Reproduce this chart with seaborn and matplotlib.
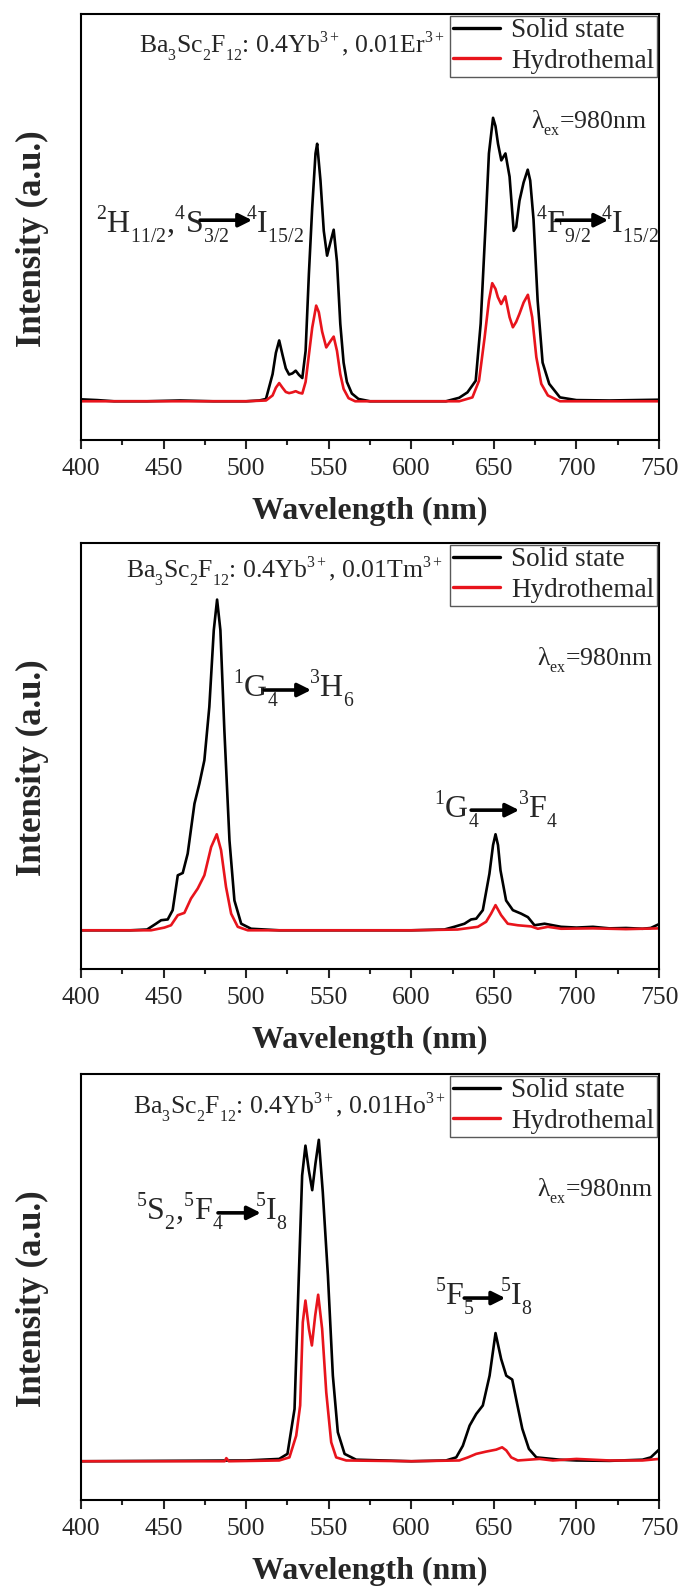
import numpy as np
import pandas as pd
import seaborn as sns
import matplotlib
matplotlib.use('Agg')
import matplotlib.pyplot as plt
import matplotlib._mathtext as mathtext_internal

# ---- spectra (baseline = 0) ----
# Er3+
er_solid_wl = [400, 410, 420, 440, 460, 480, 500, 508, 512, 516, 518, 520, 522, 524, 526, 528, 530, 532, 534,
               536, 538, 540, 542, 543, 545, 547, 549, 551, 553, 555, 557, 559, 561, 564, 568, 575, 600, 621,
               629, 634, 639, 642, 645, 647, 649.5, 651, 652.5, 654.5, 657, 659.5, 662, 663.5, 665.5, 668,
               670.5, 672, 674, 676.5, 679.5, 683.5, 690, 700, 720, 750]
er_solid = [0.005, 0.003, 0.0, 0.0, 0.002, 0.0, 0.0, 0.002, 0.006, 0.07, 0.125, 0.157, 0.12, 0.085, 0.069, 0.072,
            0.079, 0.068, 0.06, 0.13, 0.33, 0.5, 0.64, 0.665, 0.57, 0.44, 0.376, 0.41, 0.443, 0.36, 0.2, 0.1,
            0.05, 0.02, 0.006, 0.0, 0.0, 0.0, 0.009, 0.023, 0.053, 0.2, 0.458, 0.64, 0.732, 0.71, 0.665, 0.622,
            0.64, 0.58, 0.44, 0.45, 0.518, 0.565, 0.598, 0.57, 0.47, 0.26, 0.1, 0.045, 0.01, 0.003, 0.002, 0.004]
er_hydro_wl = [400, 450, 500, 512, 516, 518, 520, 522, 524, 526, 528, 530, 532, 534, 536, 538, 540, 542.4, 544,
               546, 548.5, 551, 553, 555, 557, 559, 562, 566, 600, 629, 637, 641, 644.4, 647, 649, 651, 652.4,
               654.4, 656.9, 659.5, 661.5, 663.5, 665.5, 668, 670.6, 673.2, 675.7, 678.7, 682.7, 690, 750]
er_hydro = [0.0, 0.0, 0.0, 0.002, 0.015, 0.035, 0.047, 0.035, 0.024, 0.021, 0.023, 0.026, 0.022, 0.02, 0.05,
            0.12, 0.19, 0.247, 0.23, 0.18, 0.139, 0.155, 0.167, 0.13, 0.07, 0.032, 0.008, 0.0, 0.0, 0.0, 0.01,
            0.053, 0.165, 0.26, 0.305, 0.29, 0.269, 0.251, 0.271, 0.217, 0.191, 0.205, 0.226, 0.255, 0.275,
            0.217, 0.114, 0.045, 0.015, 0.0, 0.0]

# Tm3+
tm_solid_wl = [400, 430, 440, 445.4, 448.5, 452.5, 455.5, 458.6, 461.6, 464.6, 468.7, 471.7, 474.7, 477.7, 480.4,
               482.4, 484.4, 486.8, 489.9, 492.9, 497, 503, 520, 600, 620, 626, 632.2, 636.2, 639.3, 643.3,
               647.3, 649.5, 651, 652.5, 654, 657.4, 661.5, 666.5, 670.6, 674.6, 680.7, 690.7, 700, 710, 720,
               730, 740, 745, 750]
tm_solid = [0.0, 0.0, 0.002, 0.017, 0.026, 0.028, 0.052, 0.142, 0.148, 0.198, 0.327, 0.379, 0.439, 0.577, 0.775,
            0.854, 0.775, 0.517, 0.232, 0.077, 0.017, 0.004, 0.0, 0.0, 0.002, 0.009, 0.017, 0.028, 0.03, 0.052,
            0.146, 0.22, 0.248, 0.22, 0.155, 0.077, 0.052, 0.043, 0.034, 0.013, 0.017, 0.009, 0.007, 0.009,
            0.005, 0.006, 0.004, 0.006, 0.016]
tm_hydro_wl = [400, 442.4, 450.5, 454.5, 458.6, 462.6, 466.6, 470.7, 474.7, 478.8, 482.2, 484.8, 487.8, 490.9,
               494.9, 501, 600, 628, 640.3, 645.3, 648.3, 651, 654.4, 658.4, 664.5, 672.6, 676.6, 682.7, 690.7,
               710, 730, 750]
tm_hydro = [0.0, 0.0, 0.007, 0.013, 0.039, 0.045, 0.082, 0.108, 0.142, 0.215, 0.248, 0.207, 0.112, 0.043, 0.009,
            0.0, 0.0, 0.002, 0.009, 0.022, 0.043, 0.065, 0.039, 0.017, 0.013, 0.01, 0.004, 0.009, 0.004, 0.005,
            0.003, 0.005]

# Ho3+
ho_solid_wl = [400, 500, 520, 525, 529.3, 531.9, 533.9, 535.9, 538, 540, 542, 544, 546.4, 549.5, 552.5, 555.5,
               559.6, 566.6, 600, 621, 627.2, 631.2, 635.3, 639.3, 643.3, 647.4, 651, 654.4, 657.5, 661.1, 663.9,
               667.2, 671.2, 675.7, 690, 700, 720, 740, 745, 750]
ho_solid = [0.0, 0.002, 0.006, 0.019, 0.135, 0.48, 0.738, 0.815, 0.75, 0.70, 0.77, 0.83, 0.695, 0.48, 0.221,
            0.075, 0.019, 0.004, 0.0, 0.002, 0.01, 0.04, 0.092, 0.122, 0.144, 0.221, 0.331, 0.264, 0.221, 0.211,
            0.152, 0.084, 0.032, 0.01, 0.004, 0.002, 0.001, 0.004, 0.01, 0.03]
ho_hydro_wl = [400, 487, 488, 489.5, 520, 526.2, 530.3, 532.7, 534.3, 535.9, 538, 539.8, 541.8, 543.6, 546, 548.5,
               551.5, 554.5, 560.6, 600, 629, 634.3, 639.3, 645.4, 651.4, 655, 657.5, 660.5, 664.5, 677.7, 685.7,
               700, 720, 740, 750]
ho_hydro = [0.0, 0.0, 0.008, 0.0, 0.002, 0.01, 0.066, 0.144, 0.359, 0.415, 0.342, 0.299, 0.376, 0.43, 0.342, 0.178,
            0.049, 0.01, 0.002, 0.0, 0.002, 0.01, 0.019, 0.025, 0.03, 0.036, 0.028, 0.01, 0.002, 0.006, 0.002,
            0.006, 0.002, 0.002, 0.006]

series_labels = ['Solid state', 'Hydrothemal']
compositions = [r'Ba$_3$Sc$_2$F$_{12}$: 0.4Yb$^{3+}$, 0.01Er$^{3+}$',
                r'Ba$_3$Sc$_2$F$_{12}$: 0.4Yb$^{3+}$, 0.01Tm$^{3+}$',
                r'Ba$_3$Sc$_2$F$_{12}$: 0.4Yb$^{3+}$, 0.01Ho$^{3+}$']
excitation = r'λ$_{\mathrm{ex}}$=980nm'

# transitions: (start text, end text)
transitions = [
    [(r'$^2$H$_{11/2}$,$^4$S$_{3/2}$', r'$^4$I$_{15/2}$'), (r'$^4$F$_{9/2}$', r'$^4$I$_{15/2}$')],
    [(r'$^1$G$_4$', r'$^3$H$_6$'), (r'$^1$G$_4$', r'$^3$F$_4$')],
    [(r'$^5$S$_2$,$^5$F$_4$', r'$^5$I$_8$'), (r'$^5$F$_5$', r'$^5$I$_8$')],
]
# label placement in axes fraction: x start, baseline y, arrow x0, arrow x1, arrow y, x end text
trans_pos = [
    [(0.026, 0.486, 0.206, 0.296, 0.516, 0.285), (0.788, 0.486, 0.822, 0.912, 0.516, 0.899)],
    [(0.263, 0.638, 0.317, 0.398, 0.655, 0.394), (0.611, 0.354, 0.675, 0.758, 0.373, 0.756)],
    [(0.095, 0.657, 0.237, 0.311, 0.674, 0.301), (0.613, 0.458, 0.663, 0.734, 0.474, 0.725)],
]
comp_pos = [(0.0995, 0.923), (0.078, 0.932), (0.09, 0.92)]
ex_pos = [(0.979, 0.744), (0.99, 0.725), (0.99, 0.725)]

spectra = [
    (er_solid_wl, er_solid, er_hydro_wl, er_hydro),
    (tm_solid_wl, tm_solid, tm_hydro_wl, tm_hydro),
    (ho_solid_wl, ho_solid, ho_hydro_wl, ho_hydro),
]

sns.set_style('ticks')
plt.rcParams['font.family'] = ['Liberation Serif', 'DejaVu Serif']
plt.rcParams['mathtext.fontset'] = 'custom'
plt.rcParams['mathtext.rm'] = 'Liberation Serif'
plt.rcParams['mathtext.it'] = 'Liberation Serif:italic'
plt.rcParams['mathtext.bf'] = 'Liberation Serif:bold'
# smaller, further-dropped scripts like the original labels
mathtext_internal.SHRINK_FACTOR = 0.62
mathtext_internal.FontConstantsBase.sub1 = 0.65
mathtext_internal.FontConstantsBase.sup1 = 0.9

fig = plt.figure(figsize=(6.83, 15.93), dpi=100)
bottoms = [0.7238, 0.3917, 0.0584]

for i, (sw, sv, hw, hv) in enumerate(spectra):
    ax = fig.add_axes([0.1186, bottoms[i], 0.8463, 0.2674])
    sns.lineplot(x=sw, y=sv, ax=ax, color='black', lw=1.9, label=series_labels[0])
    sns.lineplot(x=hw, y=hv, ax=ax, color='#e8141c', lw=1.9, label=series_labels[1])

    ax.set_xlim(400, 750)
    ax.set_ylim(-0.1, 1.0)
    ax.set_xticks(np.arange(400, 751, 50))
    ax.set_xticks(np.arange(425, 750, 50), minor=True)
    ax.set_yticks([])
    ax.tick_params(axis='x', which='major', direction='out', length=6.5, width=1.5, labelsize=18.5, pad=6.5)
    ax.tick_params(axis='x', which='minor', direction='out', length=3.6, width=1.5)
    for sp in ax.spines.values():
        sp.set_linewidth(1.5)
        sp.set_color('black')

    ax.set_xlabel('Wavelength (nm)', fontsize=23, fontweight='bold')
    ax.set_ylabel('Intensity (a.u.)', fontsize=25, fontweight='bold')
    ax.xaxis.set_label_coords(0.5, -0.134)
    ax.yaxis.set_label_coords(-0.055, 0.473)

    leg = ax.legend(loc='upper right', bbox_to_anchor=(0.9965, 0.996), borderaxespad=0, fancybox=False,
                    edgecolor='0.35', framealpha=1, fontsize=19.5, handlelength=1.75, handletextpad=0.4,
                    borderpad=0.1, labelspacing=0.2)
    leg.get_frame().set_linewidth(1.0)
    for ln in leg.get_lines():
        ln.set_linewidth(2.4)

    ax.text(comp_pos[i][0], comp_pos[i][1], compositions[i], transform=ax.transAxes,
            fontsize=18.5, ha='left', va='center')
    ax.text(ex_pos[i][0], ex_pos[i][1], excitation, transform=ax.transAxes,
            fontsize=18.5, ha='right', va='center')

    for (t0, t1), (xs, yb, ax0, ax1, ay, xe) in zip(transitions[i], trans_pos[i]):
        ax.text(xs, yb, t0, transform=ax.transAxes, fontsize=23, ha='left', va='baseline')
        ax.text(xe, yb, t1, transform=ax.transAxes, fontsize=23, ha='left', va='baseline')
        ax.annotate('', xy=(ax1, ay), xytext=(ax0, ay), xycoords='axes fraction',
                    arrowprops=dict(arrowstyle='-|>', color='black', lw=2.6, mutation_scale=20,
                                    shrinkA=0, shrinkB=0))

fig.savefig('out.png', dpi=100)
